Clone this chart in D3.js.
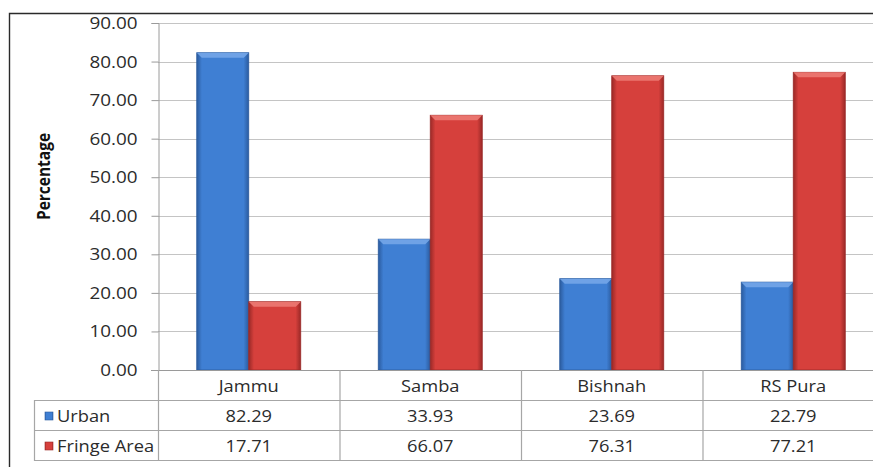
<!DOCTYPE html>
<html>
<head>
<meta charset="utf-8">
<script src="https://cdn.jsdelivr.net/npm/d3@7"></script>
<style>
  html, body { margin: 0; padding: 0; background: #fff; overflow: hidden; }
  svg text { font-family: "Open Sans", "Noto Sans", sans-serif; fill: #2b2b2b; }
</style>
</head>
<body>
<div id="chart"></div>
<script>
// chart data
var categories = ["Jammu", "Samba", "Bishnah", "RS Pura"];
var seriesNames = ["Urban", "Fringe Area"];
var urban = [82.29, 33.93, 23.69, 22.79];
var fringe = [17.71, 66.07, 76.31, 77.21];
var yMax = 90;

var W = 873, H = 467, SX = 1.18;   // text in the source is a bit stretched sideways
var plotL = 158, plotR = 884, plotT = 23, plotB = 370;
var rowH = 30, tableL = 34.5;

var seriesValues = [urban, fringe];
var colors = [
  { edge: "#2b5b9e", mid: "#3f7fd3", top: "#74a6e8" },
  { edge: "#9a2927", mid: "#d6403c", top: "#ec7a73" }
];

var svg = d3.select("#chart").append("svg")
    .attr("width", W)
    .attr("height", H);

var defs = svg.append("defs");
colors.forEach(function (c, i) {
  var g = defs.append("linearGradient").attr("id", "grad" + i)
      .attr("x1", "0").attr("x2", "1").attr("y1", "0").attr("y2", "0");
  g.append("stop").attr("offset", "0").attr("stop-color", c.edge);
  g.append("stop").attr("offset", "0.1").attr("stop-color", c.mid);
  g.append("stop").attr("offset", "0.9").attr("stop-color", c.mid);
  g.append("stop").attr("offset", "1").attr("stop-color", c.edge);
});

// stretched text helper
function addText(parent, x, y, str, anchor, extra) {
  return parent.append("text")
    .attr("transform", "translate(" + x + "," + y + ") scale(" + SX + ",1)" + (extra || ""))
    .attr("text-anchor", anchor)
    .text(str);
}

var x0 = d3.scaleBand().domain(categories).range([plotL, plotR]).padding(0);
var x1 = d3.scaleBand().domain(seriesNames).range([0, x0.bandwidth()])
    .paddingInner(0).paddingOuter(0.745);
var y = d3.scaleLinear().domain([0, yMax]).range([plotB, plotT]);
var yTicks = y.ticks(9);

// gridlines
svg.append("g").selectAll("line").data(yTicks.filter(function (t) { return t > 0; }))
  .enter().append("line")
  .attr("x1", plotL).attr("x2", plotR)
  .attr("y1", function (d) { return Math.round(y(d)) + 0.5; })
  .attr("y2", function (d) { return Math.round(y(d)) + 0.5; })
  .attr("stroke", "#c4c4c4").attr("stroke-width", 1.2);

// y axis (left) with d3 axis, then restyled
var yAxis = svg.append("g")
  .attr("transform", "translate(" + (plotL + 0.5) + ",0)")
  .call(d3.axisLeft(y).tickValues(yTicks).tickSize(7).tickPadding(13)
        .tickFormat(d3.format(".2f")));
yAxis.select(".domain").attr("stroke", "#9a9a9a");
yAxis.selectAll(".tick line").attr("stroke", "#9a9a9a");
yAxis.selectAll(".tick text").remove();
yAxis.selectAll(".tick").each(function (d) {
  addText(d3.select(this), -21, 5.5, d3.format(".2f")(d), "end")
    .style("font-size", "16px");
});

// axis title
addText(svg, 50, 176.5, "Percentage", "middle", " rotate(-90)")
  .style("font-size", "15.5px").style("font-weight", "bold").style("fill", "#111");

// bars
var groups = svg.append("g").selectAll("g").data(categories).enter().append("g")
  .attr("transform", function (d) { return "translate(" + x0(d) + ",0)"; });

seriesNames.forEach(function (s, si) {
  groups.each(function (cat, ci) {
    var v = seriesValues[si][ci];
    var bx = x1(s), bw = x1.bandwidth(), by = y(v), bh = y(0) - y(v);
    var g = d3.select(this);
    g.append("rect")
      .attr("x", bx).attr("y", by).attr("width", bw).attr("height", bh)
      .attr("fill", "url(#grad" + si + ")")
      .attr("stroke", colors[si].edge).attr("stroke-width", 0.8);
    // top bevel
    var bev = 5;
    g.append("path")
      .attr("d", "M" + bx + "," + by + "L" + (bx + bw) + "," + by +
                 "L" + (bx + bw - bev) + "," + (by + bev) + "L" + (bx + bev) + "," + (by + bev) + "Z")
      .attr("fill", colors[si].top).attr("opacity", 0.9);
  });
});

// x axis line
svg.append("line")
  .attr("x1", plotL - 7).attr("x2", plotR)
  .attr("y1", plotB + 0.5).attr("y2", plotB + 0.5)
  .attr("stroke", "#9a9a9a");

// data table
var tableLine = "#a6a6a6";
var rowsY = [plotB + rowH, plotB + 2 * rowH, plotB + 3 * rowH];
rowsY.forEach(function (ry) {
  svg.append("line").attr("x1", tableL).attr("x2", plotR)
    .attr("y1", ry + 0.5).attr("y2", ry + 0.5)
    .attr("stroke", tableLine).attr("stroke-width", 1.2);
});
svg.append("line").attr("x1", tableL).attr("x2", tableL)
  .attr("y1", rowsY[0]).attr("y2", rowsY[2] + 1)
  .attr("stroke", tableLine).attr("stroke-width", 1.2);
categories.forEach(function (c) {
  var bx = x0(c) + x0.bandwidth();
  svg.append("line").attr("x1", bx + 0.5).attr("x2", bx + 0.5)
    .attr("y1", plotB).attr("y2", rowsY[2] + 1)
    .attr("stroke", tableLine).attr("stroke-width", 1.2);
});
svg.append("line").attr("x1", plotL + 0.5).attr("x2", plotL + 0.5)
  .attr("y1", plotB).attr("y2", rowsY[2] + 1)
  .attr("stroke", tableLine).attr("stroke-width", 1.2);

categories.forEach(function (c) {
  addText(svg, x0(c) + x0.bandwidth() / 2, plotB + 22, c, "middle").style("font-size", "15.5px");
});
seriesNames.forEach(function (s, si) {
  var ry = rowsY[si];
  svg.append("rect")
    .attr("x", 45).attr("y", ry + 12).attr("width", 8).attr("height", 8)
    .attr("fill", "url(#grad" + si + ")")
    .attr("stroke", colors[si].edge).attr("stroke-width", 0.6);
  addText(svg, 57, ry + 21.5, s, "start").style("font-size", "15.5px");
  categories.forEach(function (c, ci) {
    addText(svg, x0(c) + x0.bandwidth() / 2, ry + 21.5, d3.format(".2f")(seriesValues[si][ci]), "middle")
      .style("font-size", "15.5px");
  });
});

// outer frame (cropped on right/bottom)
svg.append("path")
  .attr("d", "M9.5," + H + "V13.5H" + W)
  .attr("fill", "none").attr("stroke", "#2a2a2a").attr("stroke-width", 1.4);
</script>
</body>
</html>
